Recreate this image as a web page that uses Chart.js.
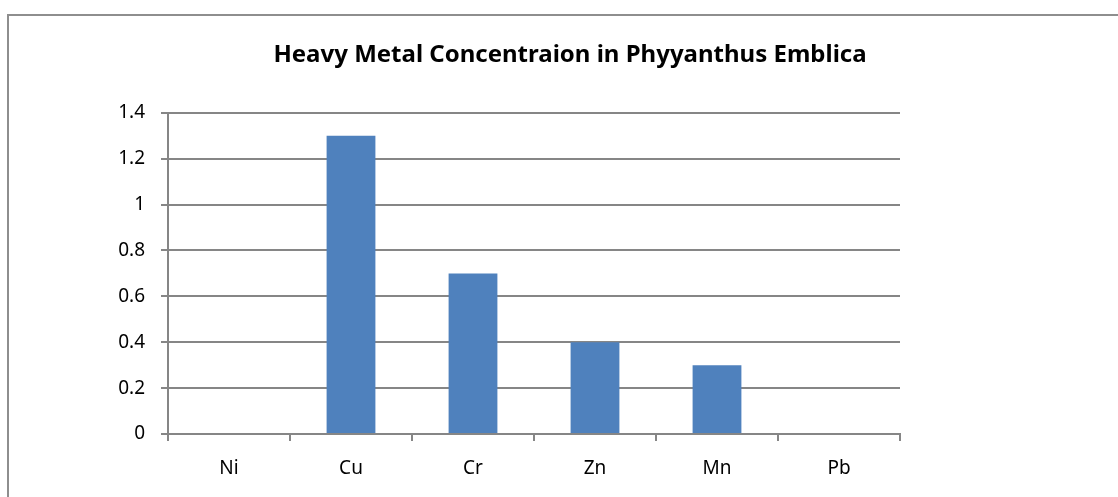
<!DOCTYPE html>
<html>
<head>
<meta charset="utf-8" />
<script src="https://cdn.jsdelivr.net/npm/chart.js@4/dist/chart.umd.min.js"></script>
<style>
  html, body {
    margin: 0;
    padding: 0;
    background: #ffffff;
    overflow: hidden;
  }
  .frame {
    position: absolute;
    left: 7px;
    top: 14px;
    width: 1300px;
    height: 700px;
    border: 2px solid #8e8e8e;
  }
  .wrap {
    position: absolute;
    left: 0;
    top: 0;
    width: 1118px;
    height: 497px;
  }
</style>
</head>
<body>
<div class="frame"></div>
<div class="wrap"><canvas id="myChart"></canvas></div>
<script>
const metals = ["Ni", "Cu", "Cr", "Zn", "Mn", "Pb"];
const concentration = [0, 1.3, 0.7, 0.4, 0.3, 0];
const yTicks = [0, 0.2, 0.4, 0.6, 0.8, 1, 1.2, 1.4];

const gridColor = "#868686";
const fontFamily = "'Noto Sans', 'Open Sans', sans-serif";

const ctx = document.getElementById("myChart").getContext("2d");
new Chart(ctx, {
  type: "bar",
  data: {
    labels: metals,
    datasets: [
      {
        label: "Concentration",
        data: concentration,
        backgroundColor: "#4f81bd",
        borderWidth: 0,
        barPercentage: 0.4,
        categoryPercentage: 1,
      },
    ],
  },
  options: {
    responsive: true,
    maintainAspectRatio: false,
    animation: false,
    layout: {
      padding: { left: 22, right: 0, top: 0, bottom: 0 },
    },
    plugins: {
      legend: { display: false },
      tooltip: { enabled: false },
      title: {
        display: true,
        text: "Heavy Metal Concentraion in Phyyanthus Emblica",
        color: "#000000",
        font: { family: fontFamily, size: 24, weight: "bold", lineHeight: 1.2 },
        padding: { top: 41, bottom: 43 },
        align: "center",
      },
    },
    scales: {
      x: {
        grid: {
          display: true,
          drawOnChartArea: false,
          drawTicks: true,
          tickLength: 7,
          color: gridColor,
          lineWidth: 2,
          offset: true,
        },
        border: { display: true, color: gridColor, width: 2 },
        ticks: {
          color: "#000000",
          font: { family: fontFamily, size: 19 },
          padding: 16,
          maxRotation: 0,
        },
        afterFit: (scale) => {
          scale.height = 63;
        },
      },
      y: {
        min: 0,
        max: 1.4,
        afterBuildTicks: (scale) => {
          scale.ticks = yTicks.map((v) => ({ value: v }));
        },
        grid: {
          color: gridColor,
          lineWidth: 2,
          tickLength: 7,
          drawTicks: true,
        },
        border: { display: true, color: gridColor, width: 2 },
        ticks: {
          color: "#000000",
          font: { family: fontFamily, size: 19 },
          padding: 16,
          callback: (v) => String(v),
        },
        afterFit: (scale) => {
          scale.width = 146;
        },
      },
      // empty spacer on the right so the plot ends where the reference does
      spacer: {
        type: "linear",
        position: "right",
        display: true,
        grid: { display: false },
        border: { display: false },
        ticks: { display: false },
        afterFit: (scale) => {
          scale.width = 218;
        },
      },
    },
  },
});
</script>
</body>
</html>
